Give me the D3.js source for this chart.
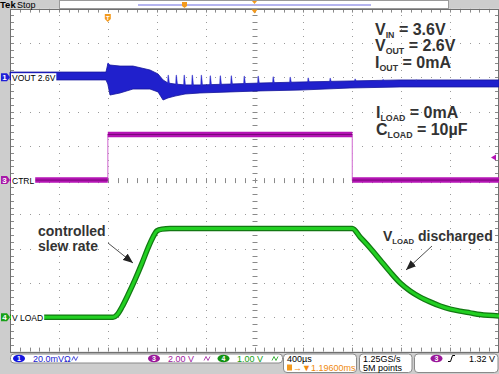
<!DOCTYPE html>
<html>
<head>
<meta charset="utf-8">
<script src="https://cdn.jsdelivr.net/npm/d3@7"></script>
<style>
body { margin: 0; background: #cdcdcd; }
text { font-family: "Liberation Sans", Arial, sans-serif; }
</style>
</head>
<body>
<script>
// scope time axis in us (400us/div, trigger 2 div from left)
var timeDomain = [-800, 3200];

// CH1 VOUT, 20mV/div ac: min / max envelope of the noisy trace (mV)
var voutTime = [-800, -470, -60, -15, 0, 18, 100, 206, 345, 411, 452, 492, 550, 632, 754, 1000, 1245, 1572, 1981, 2390, 3200];
var voutHigh = [3.0, 3.0, 3.0, 3.0, 7.7, 7.1, 6.5, 6.5, 4.2, 1.9, -1.6, -3.4, -4.0, -4.5, -4.5, -4.0, -3.4, -2.8, -2.2, -1.6, -1.6];
var voutLow = [-1.6, -1.6, -1.6, -1.6, -4.0, -10.4, -9.2, -6.9, -6.9, -8.6, -13.3, -12.1, -11.0, -9.8, -9.2, -8.6, -8.0, -7.5, -6.3, -5.7, -5.7];
// load-step spikes on VOUT (us, peak mV)
var spikeTime = [0, 492, 558, 623, 689, 763, 836, 918, 1008, 1114, 1228, 1351, 1490, 1637, 1817, 2021, 2250, 2520];
var spikePeak = [8.3, 1.2, 1.2, 1.2, 1.2, 1.2, 0.8, 0.8, 0.8, 0.6, 0.6, 0.2, 0.0, -0.4, -0.6, -1.0, -1.4, -1.6];

// CH3 CTRL, 2V/div
var ctrlTime = [-800, 0, 0, 2000, 2000, 3200];
var ctrlVolts = [0, 0, 2.66, 2.66, 0, 0];

// CH4 V LOAD, 1V/div
var loadTime = [-800, 43, 75, 116, 165, 222, 280, 329, 370, 402, 443, 509, 2000, 2064, 2146, 2228, 2310, 2392, 2473, 2555, 2637, 2719, 2801, 2882, 2964, 3046, 3200];
var loadVolts = [0, 0, 0.07, 0.30, 0.65, 1.09, 1.58, 2.02, 2.34, 2.52, 2.57, 2.59, 2.59, 2.34, 2.02, 1.67, 1.32, 1.00, 0.77, 0.59, 0.45, 0.33, 0.24, 0.18, 0.13, 0.08, 0.04];

var triggerLevel = 1.32;

var width = 499, height = 374;
var plot = {left: 10, right: 499, top: 8.6, bottom: 351.6};

var x = d3.scaleLinear().domain(timeDomain).range([plot.left, plot.right]);
var y = d3.scaleLinear().domain([-5, 5]).range([plot.bottom, plot.top]);

function ch1(mv) { return y(3 + mv / 20); }
function ch3(v) { return y(v / 2); }
function ch4(v) { return y(-4 + v / 1); }

var svg = d3.select("body").append("svg")
	.attr("width", width)
	.attr("height", height);

svg.append("rect").attr("width", width).attr("height", height).style("fill", "#cdcdcd");
svg.append("rect")
	.attr("x", plot.left).attr("y", plot.top)
	.attr("width", plot.right - plot.left).attr("height", plot.bottom - plot.top)
	.style("fill", "#fff");

// graticule
var majorX = d3.range(-800, 3201, 400),
	majorY = d3.range(-5, 5.01, 1),
	minorX = d3.range(-800, 3200.1, 80),
	minorY = d3.range(-5, 5.001, 0.2);

var grid = svg.append("g").style("fill", "#9a9a9a");
grid.selectAll("rect.vx")
	.data(d3.cross(majorX.slice(1, -1), minorY))
	.enter().append("rect")
		.attr("x", function(d) { return Math.round(x(d[0])); })
		.attr("y", function(d) { return Math.round(y(d[1])); })
		.attr("width", 1).attr("height", 1);
grid.selectAll("rect.hy")
	.data(d3.cross(minorX, majorY.slice(1, -1)))
	.enter().append("rect")
		.attr("x", function(d) { return Math.round(x(d[0])); })
		.attr("y", function(d) { return Math.round(y(d[1])); })
		.attr("width", 1).attr("height", 1);

var ticks = svg.append("g").style("stroke", "#8a8a8a").style("stroke-width", 1);
minorY.forEach(function(v) {
	var yy = Math.round(y(v)) + 0.5;
	ticks.append("line").attr("x1", x(1200) - 2).attr("x2", x(1200) + 3).attr("y1", yy).attr("y2", yy);
	ticks.append("line").attr("x1", plot.left).attr("x2", plot.left + 4).attr("y1", yy).attr("y2", yy);
	ticks.append("line").attr("x1", plot.right - 4).attr("x2", plot.right).attr("y1", yy).attr("y2", yy);
});
minorX.forEach(function(t) {
	var xx = Math.round(x(t)) + 0.5;
	ticks.append("line").attr("x1", xx).attr("x2", xx).attr("y1", y(0) - 2).attr("y2", y(0) + 3);
	ticks.append("line").attr("x1", xx).attr("x2", xx).attr("y1", plot.top).attr("y2", plot.top + 4);
	ticks.append("line").attr("x1", xx).attr("x2", xx).attr("y1", plot.bottom - 4).attr("y2", plot.bottom);
});
svg.append("rect")
	.attr("x", plot.left + 0.5).attr("y", Math.round(plot.top) + 0.5)
	.attr("width", plot.right - plot.left - 1).attr("height", Math.round(plot.bottom - plot.top))
	.style("fill", "none").style("stroke", "#707070");

// CH1 trace
var idx = d3.range(voutTime.length);
svg.append("path")
	.datum(idx)
	.attr("d", d3.area()
		.x(function(i) { return x(voutTime[i]); })
		.y0(function(i) { return ch1(voutLow[i]); })
		.y1(function(i) { return ch1(voutHigh[i]); }))
	.style("fill", "#2020cc")
	.style("stroke", "#15159a")
	.style("stroke-width", 0.8);

// each spike: sharp rise then quick decay back into the band
var highAt = d3.scaleLinear().domain(voutTime).range(voutHigh);
svg.append("g").selectAll("path")
	.data(d3.range(spikeTime.length))
	.enter().append("path")
		.attr("d", function(i) {
			var sx = x(spikeTime[i]), base = ch1(highAt(spikeTime[i])) + 1;
			return "M" + (sx - 0.4) + "," + base + "L" + sx + "," + ch1(spikePeak[i]) + "L" + (sx + 0.5) + "," + ch1(spikePeak[i]) + "L" + (sx + 1.6) + "," + base + "Z";
		})
		.style("fill", "#2a2ad8")
		.style("stroke", "#2424c0")
		.style("stroke-width", 0.4);

// CH3 trace
var ctrlLine = d3.line()
	.x(function(i) { return x(ctrlTime[i]); })
	.y(function(i) { return ch3(ctrlVolts[i]); });
svg.append("path")
	.datum(d3.range(ctrlTime.length))
	.attr("d", ctrlLine)
	.style("fill", "none")
	.style("stroke", "#d880d8")
	.style("stroke-width", 1.2);
var levels = d3.range(ctrlTime.length - 1).filter(function(i) { return ctrlVolts[i] === ctrlVolts[i + 1]; });
svg.append("g").selectAll("path")
	.data(levels)
	.enter().append("path")
		.attr("d", function(i) { return ctrlLine([i, i + 1]); })
		.style("stroke", "#b414b4")
		.style("stroke-width", 5.5);
svg.append("g").selectAll("path")
	.data(levels)
	.enter().append("path")
		.attr("d", function(i) { return ctrlLine([i, i + 1]); })
		.style("stroke", "#7a087a")
		.style("stroke-width", 1);

// CH4 trace
var loadLine = d3.line()
	.x(function(i) { return x(loadTime[i]); })
	.y(function(i) { return ch4(loadVolts[i]); })
	.curve(d3.curveMonotoneX);
svg.append("path")
	.datum(d3.range(loadTime.length))
	.attr("d", loadLine)
	.style("fill", "none")
	.style("stroke", "#127812")
	.style("stroke-width", 5.5)
	.style("stroke-linejoin", "round");
svg.append("path")
	.datum(d3.range(loadTime.length))
	.attr("d", loadLine)
	.style("fill", "none")
	.style("stroke", "#22d022")
	.style("stroke-width", 3)
	.style("stroke-linejoin", "round");

// trace labels and channel markers
var chans = [
	{n: "1", label: "VOUT 2.6V", y: ch1(0), color: "#1f1fd8"},
	{n: "3", label: "CTRL", y: ch3(0), color: "#a818a8"},
	{n: "4", label: "V LOAD", y: ch4(0), color: "#18a018"}
];
chans.forEach(function(c) {
	var g = svg.append("g");
	var bg = g.append("rect");
	var t = g.append("text")
		.attr("x", 12).attr("y", c.y + 3.5)
		.style("font-size", "8.5px").style("fill", "#000")
		.text(c.label);
	var w = t.node().getComputedTextLength();
	bg.attr("x", 11).attr("y", c.y - 4).attr("width", w + 2).attr("height", 9).style("fill", "#fff");
	g.append("path")
		.attr("d", "M1," + (c.y - 4) + "h6l3,4l-3,4h-6z")
		.style("fill", c.color);
	g.append("text")
		.attr("x", 4.5).attr("y", c.y + 3)
		.attr("text-anchor", "middle")
		.style("font-size", "8px").style("font-weight", "bold").style("fill", "#fff")
		.text(c.n);
});

// trigger level arrow on the right
var ty = ch3(triggerLevel);
svg.append("path")
	.attr("d", "M491," + ty + "l5,-3v6z")
	.style("fill", "#b414b4");

// trigger position marker and centre marker
svg.append("path")
	.attr("d", "M" + (x(0) - 3) + ",14h6v5l-3,3l-3,-3z")
	.style("fill", "#f39a1e");
svg.append("text")
	.attr("x", x(0)).attr("y", 19.5).attr("text-anchor", "middle")
	.style("font-size", "6px").style("font-weight", "bold").style("fill", "#fff")
	.text("T");
svg.append("path")
	.attr("d", "M" + (x(1200) - 3) + ",9.5h6l-3,4z")
	.style("fill", "#f39a1e");

// top bar
svg.append("rect").attr("x", 0).attr("y", 0).attr("width", width).attr("height", 8.6).style("fill", "#cdcdcd");
svg.append("text").attr("x", 0).attr("y", 8).style("font-size", "9.5px").style("font-weight", "bold").text("Tek");
svg.append("text").attr("x", 17).attr("y", 8).style("font-size", "9px").text("Stop");
svg.append("rect").attr("x", 59.5).attr("y", 0.5).attr("width", 389).attr("height", 8)
	.style("fill", "#fff").style("stroke", "#9a9a9a");
svg.append("line").attr("x1", 138).attr("x2", 371).attr("y1", 5).attr("y2", 5)
	.style("stroke", "#6a6ae0").style("stroke-width", 1);
svg.append("path").attr("d", "M182,2h5v4l-2.5,2l-2.5,-2z").style("fill", "#f39a1e");
svg.append("path").attr("d", "M252,1h5l-2.5,3z").style("fill", "#f39a1e");

// annotations
var notes = svg.append("g").style("font-weight", "bold").style("fill", "#333");
function note(px, py, size, main, sub, rest) {
	var t = notes.append("text").attr("x", px).attr("y", py).style("font-size", size + "px");
	t.append("tspan").text(main);
	if (sub) t.append("tspan").attr("dy", 3).style("font-size", (size * 0.55) + "px").text(sub);
	t.append("tspan").attr("dy", sub ? -3 : 0).text(rest);
}
note(375, 34.5, 16, "V", "IN", " = 3.6V");
note(375, 51, 16, "V", "OUT", " = 2.6V");
note(375, 67.5, 16, "I", "OUT", " = 0mA");
note(376, 117.5, 16, "I", "LOAD", " = 0mA");
note(376, 134.5, 16, "C", "LOAD", " = 10\u00b5F");
note(383, 241, 14, "V", "LOAD", " discharged");
note(38, 235.5, 14, "controlled", null, "");
note(38, 251, 14, "slew rate", null, "");

svg.append("defs").append("marker")
	.attr("id", "head").attr("viewBox", "0 0 10 8")
	.attr("refX", 10).attr("refY", 4)
	.attr("markerWidth", 10).attr("markerHeight", 8)
	.attr("markerUnits", "userSpaceOnUse")
	.attr("orient", "auto")
	.append("path").attr("d", "M0,0L10,4L0,8z").style("fill", "#222");
[[108, 243, 133, 263], [432, 246, 406, 270]].forEach(function(a) {
	svg.append("line")
		.attr("x1", a[0]).attr("y1", a[1]).attr("x2", a[2]).attr("y2", a[3])
		.style("stroke", "#222").style("stroke-width", 0.8)
		.attr("marker-end", "url(#head)");
});

// readout bar
var bar = svg.append("g").style("font-size", "9px");
function box(bx, by, bw, bh) {
	bar.append("rect").attr("x", bx).attr("y", by).attr("width", bw).attr("height", bh).attr("rx", 3.5)
		.style("fill", "#fff").style("stroke", "#8a8a8a");
}
function badge(cx, cy, n, color) {
	bar.append("ellipse").attr("cx", cx).attr("cy", cy).attr("rx", 6).attr("ry", 3.8).style("fill", color);
	bar.append("text").attr("x", cx).attr("y", cy + 2.8).attr("text-anchor", "middle")
		.style("font-size", "7px").style("font-weight", "bold").style("fill", "#fff").text(n);
}
function bwIcon(px, color) {
	bar.append("path")
		.attr("d", "M" + px + ",360.5l2,-4l2,4l2,-4")
		.style("fill", "none").style("stroke", color).style("stroke-width", 0.8);
}
box(10.5, 354, 272, 9);
badge(19, 358.5, "1", "#1515e0");
var ch1Text = bar.append("text").attr("x", 33).attr("y", 361.6).style("fill", "#2020d0").text("20.0mV\u03a9");
bwIcon(34 + ch1Text.node().getComputedTextLength(), "#2020d0");
badge(154, 358.5, "3", "#9a189a");
bar.append("text").attr("x", 168).attr("y", 361.6).style("fill", "#a020a0").text("2.00 V");
bwIcon(204, "#a020a0");
badge(223.5, 358.5, "4", "#139213");
bar.append("text").attr("x", 237).attr("y", 361.6).style("fill", "#12a012").text("1.00 V");
bwIcon(272, "#12a012");

box(283.5, 354, 73, 18.5);
bar.append("text").attr("x", 287).attr("y", 361.6).text("400\u00b5s");
bar.append("rect").attr("x", 287).attr("y", 364.5).attr("width", 5).attr("height", 6).style("fill", "#f39a1e");
bar.append("text").attr("x", 293).attr("y", 370.5).style("fill", "#f08a10").text("\u2192\u25bc1.19600ms");

box(359.5, 354, 52.5, 18.5);
bar.append("text").attr("x", 363).attr("y", 361.6).text("1.25GS/s");
bar.append("text").attr("x", 363).attr("y", 370.5).text("5M points");

box(414.5, 354, 83.5, 18.5);
badge(436.5, 358.5, "3", "#9a189a");
bar.append("path").attr("d", "M448,361.5h2.5l2,-6h2.5").style("fill", "none").style("stroke", "#000").style("stroke-width", 1);
bar.append("text").attr("x", 495).attr("y", 361.6).attr("text-anchor", "end").text("1.32 V");
</script>
</body>
</html>
